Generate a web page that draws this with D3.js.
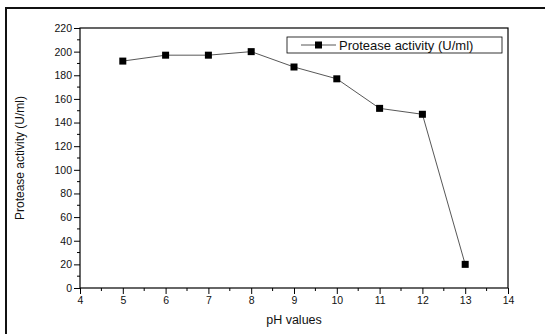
<!DOCTYPE html>
<html><head><meta charset="utf-8">
<script src="https://cdn.jsdelivr.net/npm/d3@7"></script>
<style>body{margin:0;background:#fff}svg{display:block}</style>
</head><body>
<svg id="c" width="545" height="334"></svg>
<script>
const phValues = [5, 6, 7, 8, 9, 10, 11, 12, 13];
const activity = [192, 197, 197, 200, 187, 177, 152, 147, 20];
const xTicks = [4, 5, 6, 7, 8, 9, 10, 11, 12, 13, 14];
const yTicks = [0, 20, 40, 60, 80, 100, 120, 140, 160, 180, 200, 220];
const seriesName = "Protease activity (U/ml)";

const svg = d3.select("#c");
const L = 80, R = 508, T = 28, B = 288;
const x = d3.scaleLinear().domain([4, 14]).range([L, R]);
const y = d3.scaleLinear().domain([0, 220]).range([B, T]);
const font = "Liberation Sans, Arial, sans-serif";

// outer frame
svg.append("path").attr("d", "M6,340 V8 H550").attr("fill", "none").attr("stroke", "#111").attr("stroke-width", 2);

// plot box
svg.append("rect").attr("x", L).attr("y", T).attr("width", R - L).attr("height", B - T)
  .attr("fill", "none").attr("stroke", "#000").attr("stroke-width", 1.2);

// minor ticks
const xMinor = d3.range(4.5, 14, 1);
const yMinor = d3.range(10, 220, 20);
svg.append("g").selectAll("line").data(xMinor).join("line")
  .attr("x1", d => x(d)).attr("x2", d => x(d)).attr("y1", B).attr("y2", B + 3)
  .attr("stroke", "#000").attr("stroke-width", 1);
svg.append("g").selectAll("line").data(yMinor).join("line")
  .attr("y1", d => y(d)).attr("y2", d => y(d)).attr("x1", L).attr("x2", L - 3)
  .attr("stroke", "#000").attr("stroke-width", 1);

// axes
const xa = svg.append("g").attr("transform", `translate(0,${B})`)
  .call(d3.axisBottom(x).tickValues(xTicks).tickSize(6).tickPadding(3).tickFormat(d3.format("d")));
const ya = svg.append("g").attr("transform", `translate(${L},0)`)
  .call(d3.axisLeft(y).tickValues(yTicks).tickSize(6).tickPadding(2).tickFormat(d3.format("d")));
[xa, ya].forEach(g => {
  g.select(".domain").remove();
  g.selectAll(".tick line").attr("stroke", "#000");
  g.selectAll(".tick text").attr("font-family", font).attr("font-size", 10.5).attr("fill", "#111");
});

// line + markers
const line = d3.line().x((d, i) => x(phValues[i])).y(d => y(d));
svg.append("path").datum(activity).attr("d", line).attr("fill", "none")
  .attr("stroke", "#444").attr("stroke-width", 0.9);
svg.append("g").selectAll("rect").data(activity).join("rect")
  .attr("x", (d, i) => x(phValues[i]) - 3.5).attr("y", d => y(d) - 3.5)
  .attr("width", 7).attr("height", 7).attr("fill", "#000");

// legend
const lg = svg.append("g");
lg.append("rect").attr("x", 287).attr("y", 37).attr("width", 215).attr("height", 16)
  .attr("fill", "#fff").attr("stroke", "#000").attr("stroke-width", 0.8);
lg.append("line").attr("x1", 301).attr("x2", 336).attr("y1", 45).attr("y2", 45).attr("stroke", "#444").attr("stroke-width", 0.9);
lg.append("rect").attr("x", 315).attr("y", 41.5).attr("width", 7).attr("height", 7).attr("fill", "#000");
lg.append("text").attr("x", 339).attr("y", 50).attr("font-family", font).attr("font-size", 13)
  .attr("fill", "#111").text(seriesName);

// axis titles
svg.append("text").attr("x", (L + R) / 2).attr("y", 324).attr("text-anchor", "middle")
  .attr("font-family", font).attr("font-size", 12.5).attr("fill", "#111").text("pH values");
svg.append("text").attr("transform", `translate(24,${(T + B) / 2}) rotate(-90)`).attr("text-anchor", "middle")
  .attr("font-family", font).attr("font-size", 12).attr("fill", "#111").text("Protease activity (U/ml)");
</script>
</body></html>
